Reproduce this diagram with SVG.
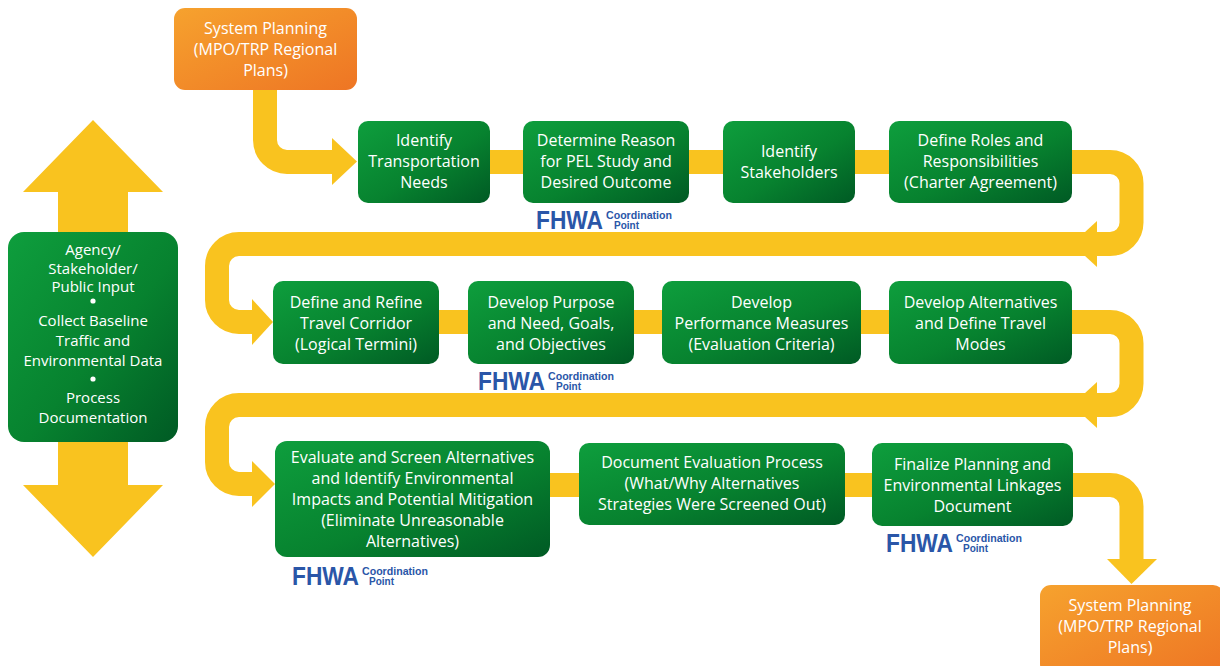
<svg xmlns="http://www.w3.org/2000/svg" width="1220" height="666" viewBox="0 0 1220 666">
<defs>
<linearGradient id="gG" x1="0" y1="0" x2="1" y2="1">
<stop offset="0" stop-color="#0E9E3D"/>
<stop offset="0.55" stop-color="#07822F"/>
<stop offset="1" stop-color="#005A24"/>
</linearGradient>
<linearGradient id="gO" x1="0" y1="0" x2="1" y2="1">
<stop offset="0" stop-color="#F6A22E"/>
<stop offset="1" stop-color="#EE7524"/>
</linearGradient>
</defs>
<style>
.g{fill:url(#gG);}
.o{fill:url(#gO);}
.t{font-family:"Open Sans","Liberation Sans",sans-serif;font-size:16px;fill:#FFFFFF;text-anchor:middle;}
.s{font-size:15px;}
.band{fill:none;stroke:#F9C31F;stroke-width:24;}
.ah{fill:#F9C31F;}
.fh{font-family:"Liberation Sans",Arial,sans-serif;font-weight:bold;fill:#2A56A8;}
</style>
<rect width="1220" height="666" fill="#FFFFFF"/>
<g id="connectors">
<polygon class="ah" points="93,120 163,192 128,192 128,485 163,485 93,557 23,485 58,485 58,192 23,192"/>
<path class="band" d="M265,88 V140 A22,22 0 0 0 287,162 H334"/>
<polygon class="ah" points="332,138 332,185 357,161.5"/>
<path class="band" d="M488,162 H1110 A21.5,21.5 0 0 1 1131.5,183.5 V222.5 A21.5,21.5 0 0 1 1110,244 H239 A22,22 0 0 0 217,266 V300 A22,22 0 0 0 239,322 H254"/>
<polygon class="ah" points="1097,221 1097,267 1072,244"/>
<polygon class="ah" points="252,299 252,345 273,322"/>
<path class="band" d="M437,322 H1110 A21.5,21.5 0 0 1 1131.5,343.5 V383.5 A21.5,21.5 0 0 1 1110,405 H239 A22,22 0 0 0 217,427 V462 A22,22 0 0 0 239,484 H254"/>
<polygon class="ah" points="1097,382 1097,428 1072,405"/>
<polygon class="ah" points="252,461 252,507 275,484"/>
<path class="band" d="M548,485 H1110 A21.5,21.5 0 0 1 1131.5,506.5 V561"/>
<polygon class="ah" points="1107,559 1157,559 1131.5,584"/>
</g>
<g id="sysplan-top">
<rect class="o" x="174" y="8" width="183" height="82" rx="11"/>
<text class="t" x="265.5" y="34">System Planning</text>
<text class="t" x="265.5" y="55">(MPO/TRP Regional</text>
<text class="t" x="265.5" y="76">Plans)</text>
</g>
<g id="stakeholder-input">
<rect class="g" x="8" y="232" width="170" height="210" rx="16"/>
<text class="t s" x="93" y="255">Agency/</text>
<text class="t s" x="93" y="274">Stakeholder/</text>
<text class="t s" x="93" y="292">Public Input</text>
<circle cx="93" cy="301" r="2.6" fill="#FFFFFF"/>
<text class="t s" x="93" y="326">Collect Baseline</text>
<text class="t s" x="93" y="346">Traffic and</text>
<text class="t s" x="93" y="366">Environmental Data</text>
<circle cx="93" cy="379" r="2.6" fill="#FFFFFF"/>
<text class="t s" x="93" y="403">Process</text>
<text class="t s" x="93" y="423">Documentation</text>
</g>
<g id="n1">
<rect class="g" x="358" y="121" width="132" height="82" rx="10"/>
<text class="t" x="424" y="146">Identify</text>
<text class="t" x="424" y="167">Transportation</text>
<text class="t" x="424" y="188">Needs</text>
</g>
<g id="n2">
<rect class="g" x="523" y="121" width="166" height="82" rx="10"/>
<text class="t" x="606" y="146">Determine Reason</text>
<text class="t" x="606" y="167">for PEL Study and</text>
<text class="t" x="606" y="188">Desired Outcome</text>
</g>
<g id="n3">
<rect class="g" x="723" y="121" width="132" height="82" rx="10"/>
<text class="t" x="789" y="157">Identify</text>
<text class="t" x="789" y="178">Stakeholders</text>
</g>
<g id="n4">
<rect class="g" x="889" y="121" width="183" height="82" rx="10"/>
<text class="t" x="980.5" y="146">Define Roles and</text>
<text class="t" x="980.5" y="167">Responsibilities</text>
<text class="t" x="980.5" y="188">(Charter Agreement)</text>
</g>
<g id="n5">
<rect class="g" x="273" y="281" width="166" height="83" rx="10"/>
<text class="t" x="356" y="308">Define and Refine</text>
<text class="t" x="356" y="329">Travel Corridor</text>
<text class="t" x="356" y="350">(Logical Termini)</text>
</g>
<g id="n6">
<rect class="g" x="468" y="281" width="166" height="83" rx="10"/>
<text class="t" x="551" y="308">Develop Purpose</text>
<text class="t" x="551" y="329">and Need, Goals,</text>
<text class="t" x="551" y="350">and Objectives</text>
</g>
<g id="n7">
<rect class="g" x="662" y="281" width="199" height="83" rx="10"/>
<text class="t" x="761.5" y="308">Develop</text>
<text class="t" x="761.5" y="329">Performance Measures</text>
<text class="t" x="761.5" y="350">(Evaluation Criteria)</text>
</g>
<g id="n8">
<rect class="g" x="889" y="281" width="183" height="83" rx="10"/>
<text class="t" x="980.5" y="308">Develop Alternatives</text>
<text class="t" x="980.5" y="329">and Define Travel</text>
<text class="t" x="980.5" y="350">Modes</text>
</g>
<g id="n9">
<rect class="g" x="275" y="441" width="275" height="116" rx="12"/>
<text class="t" x="412.5" y="463">Evaluate and Screen Alternatives</text>
<text class="t" x="412.5" y="484">and Identify Environmental</text>
<text class="t" x="412.5" y="505">Impacts and Potential Mitigation</text>
<text class="t" x="412.5" y="526">(Eliminate Unreasonable</text>
<text class="t" x="412.5" y="547">Alternatives)</text>
</g>
<g id="n10">
<rect class="g" x="579" y="443" width="266" height="82" rx="10"/>
<text class="t" x="712" y="468">Document Evaluation Process</text>
<text class="t" x="712" y="489">(What/Why Alternatives</text>
<text class="t" x="712" y="510">Strategies Were Screened Out)</text>
</g>
<g id="n11">
<rect class="g" x="872" y="443" width="201" height="83" rx="10"/>
<text class="t" x="972.5" y="470">Finalize Planning and</text>
<text class="t" x="972.5" y="491">Environmental Linkages</text>
<text class="t" x="972.5" y="512">Document</text>
</g>
<g id="sysplan-bottom">
<rect class="o" x="1040" y="585" width="184" height="90" rx="11"/>
<text class="t" x="1130" y="611">System Planning</text>
<text class="t" x="1130" y="632">(MPO/TRP Regional</text>
<text class="t" x="1130" y="653">Plans)</text>
</g>
<g id="fhwa1">
<text class="fh" x="536" y="229" font-size="25" textLength="67" lengthAdjust="spacingAndGlyphs">FHWA</text>
<text class="fh" x="606" y="219" font-size="11" textLength="66" lengthAdjust="spacingAndGlyphs">Coordination</text>
<text class="fh" x="614" y="229" font-size="11" textLength="25" lengthAdjust="spacingAndGlyphs">Point</text>
</g>
<g id="fhwa2">
<text class="fh" x="478" y="390" font-size="25" textLength="67" lengthAdjust="spacingAndGlyphs">FHWA</text>
<text class="fh" x="548" y="380" font-size="11" textLength="66" lengthAdjust="spacingAndGlyphs">Coordination</text>
<text class="fh" x="556" y="390" font-size="11" textLength="25" lengthAdjust="spacingAndGlyphs">Point</text>
</g>
<g id="fhwa3">
<text class="fh" x="292" y="585" font-size="25" textLength="67" lengthAdjust="spacingAndGlyphs">FHWA</text>
<text class="fh" x="362" y="575" font-size="11" textLength="66" lengthAdjust="spacingAndGlyphs">Coordination</text>
<text class="fh" x="369" y="585" font-size="11" textLength="25" lengthAdjust="spacingAndGlyphs">Point</text>
</g>
<g id="fhwa4">
<text class="fh" x="886" y="552" font-size="25" textLength="67" lengthAdjust="spacingAndGlyphs">FHWA</text>
<text class="fh" x="956" y="542" font-size="11" textLength="66" lengthAdjust="spacingAndGlyphs">Coordination</text>
<text class="fh" x="963" y="552" font-size="11" textLength="25" lengthAdjust="spacingAndGlyphs">Point</text>
</g>
</svg>
